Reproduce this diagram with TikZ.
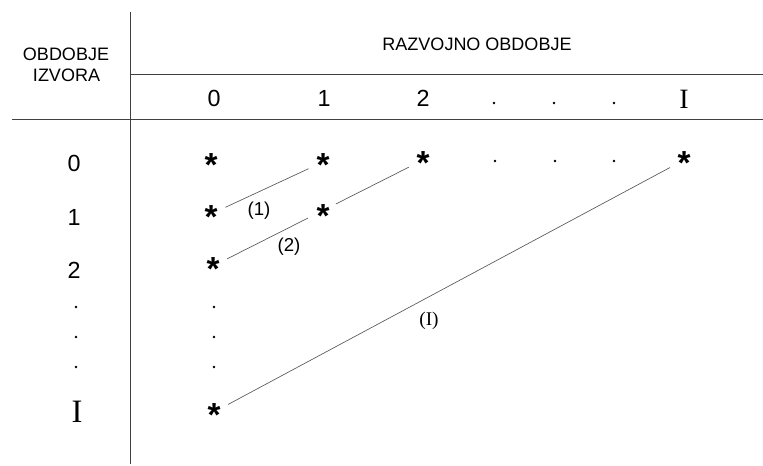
\documentclass[tikz,border=0pt]{standalone}
\usepackage{fontspec}
\setmainfont{Liberation Sans}
\newfontfamily\tms{Liberation Serif}
\begin{document}
\begin{tikzpicture}[x=0.75pt,y=-0.75pt,
  rule/.style={draw=black!75,line width=0.6pt},
  conn/.style={draw=black!65,line width=0.5pt},
  hdr/.style={font=\fontsize{13.5}{15}\selectfont,inner sep=0pt},
  num/.style={font=\fontsize{17.5}{19}\selectfont,inner sep=0pt},
  bigc/.style={font=\fontsize{21}{24}\selectfont\tms,inner sep=0pt},
  bigr/.style={font=\fontsize{24.5}{26}\selectfont\tms,inner sep=0pt},
  lbl/.style={font=\fontsize{14}{16}\selectfont,inner sep=0pt},
  dot/.style={circle,fill=black,inner sep=0pt,minimum size=2.2pt},
  ast/.style={circle,inner sep=0pt,minimum size=20pt,font=\fontsize{25}{27}\selectfont\bfseries,
    text height=21.5pt,text depth=-15.5pt},
]
\useasboundingbox (0,0) rectangle (763,466);
% rules
\coordinate (vt) at (130,12);
\coordinate (vb) at (130,464);
\coordinate (h1l) at (130,74);
\coordinate (h1r) at (763,74);
\coordinate (h2l) at (12,119);
\coordinate (h2r) at (763,119);
\draw[rule] (vt) -- (vb);
\draw[rule] (h1l) -- (h1r);
\draw[rule] (h2l) -- (h2r);
% headers
\node[hdr] (ob) at (66,54.5) {OBDOBJE};
\node[hdr] (iz) at (66.5,75) {IZVORA};
\node[hdr] (raz) at (477,44.5) {RAZVOJNO OBDOBJE};
% column labels
\node[num] (c0) at (214,98.5) {0};
\node[num] (c1) at (324,98.5) {1};
\node[num] (c2) at (423,98.5) {2};
\node[dot] (cd1) at (494,103) {};
\node[dot] (cd2) at (554,103) {};
\node[dot] (cd3) at (614,103) {};
\node[bigc] (cI) at (684,99) {I};
% row labels
\node[num] (r0) at (74,163.5) {0};
\node[num] (r1) at (74,217) {1};
\node[num] (r2) at (74,270) {2};
\node[dot] (rd1) at (76,307) {};
\node[dot] (rd2) at (76,337) {};
\node[dot] (rd3) at (76,367) {};
\node[bigr] (rI) at (77,412) {I};
% stars
\node[ast] (s00) at (211,162) {*};
\node[ast] (s01) at (323,162) {*};
\node[ast] (s02) at (423,160) {*};
\node[ast] (s0I) at (684,160) {*};
\node[ast] (s10) at (211,214) {*};
\node[ast] (s20) at (213,266) {*};
\node[ast] (sI0) at (214,412) {*};
% row 0 dots
\node[dot] (sd1) at (495,161) {};
\node[dot] (sd2) at (555,161) {};
\node[dot] (sd3) at (614,161) {};
% column 0 dots
\node[dot] (vd1) at (214,307) {};
\node[dot] (vd2) at (214,337) {};
\node[dot] (vd3) at (214,367) {};
% connectors
\draw[conn] (s10) -- (s01);
\draw[conn] (s20) -- (s02);
\draw[conn] (sI0) -- (s0I);
\node[ast,fill=white,minimum size=23pt] (s11) at (323,213) {*};
% connector labels
\node[lbl] (l1) at (259,211) {(1)};
\node[lbl] (l2) at (289,247) {(2)};
\node[lbl,font=\fontsize{14.5}{16}\selectfont\tms] (lI) at (429,321) {(I)};
\end{tikzpicture}
\end{document}
